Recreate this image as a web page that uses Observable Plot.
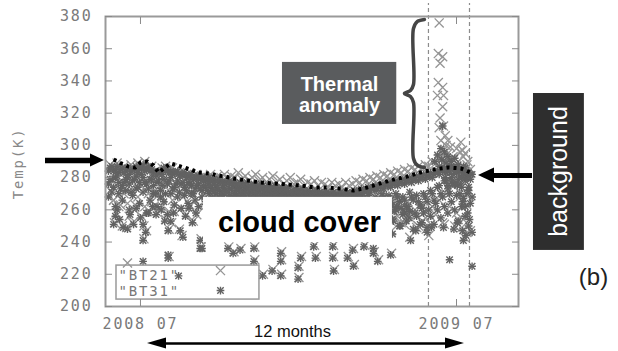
<!DOCTYPE html>
<html><head><meta charset="utf-8">
<script src="https://cdn.jsdelivr.net/npm/d3@7"></script>
<script src="https://cdn.jsdelivr.net/npm/@observablehq/plot@0.6"></script>
<style>
html,body{margin:0;padding:0;background:#fff;}
#chart{width:618px;height:351px;overflow:hidden;}
</style></head><body><div id="chart"></div>
<script>
// ---- data (days counted from 2008-07-01, temperatures in K) ----
const yTicks = [200, 220, 240, 260, 280, 300, 320, 340, 360, 380];
const xTickDays = [0, 365];
const xTickLabels = ["2008 07", "2009 07"];
const seriesNames = ['"BT21"', '"BT31"'];
const eventDays = [332.6, 380];

const bt21 = [
[-35,288],[-35,272],[-31,286],[-31,266],[-27,289],[-27,275],[-23,284],[-23,263],[-19,287],[-19,270],[-15,285],[-15,264],
[-11,288],[-11,273],[-7,286],[-7,260],[-3,289],[-3,268],[1,287],[1,275],[5,290],[5,262],[9,286],[9,270],[13,287],[13,265],
[17,284],[17,272],[21,283],[21,261],[25,286],[25,268],[29,287],[29,274],[33,285],[33,259],[37,286],[37,266],[41,284],[41,272],
[45,283],[45,260],[49,284],[49,268],[53,282],[53,271],[57,283],[57,263],[61,281],[61,269],[65,282],[65,274],[69,280],[69,262],
[73,281],[73,270],[77,280],[77,275],[81,282],[81,269],[85,279],[85,273],[89,281],[89,268],[93,280],[93,272],[97,282],[97,270],
[101,279],[101,274],[105,281],[105,269],[109,280],[109,273],[113,283],[113,270],[117,279],[117,274],[121,281],[121,268],
[125,278],[125,272],[129,280],[129,270],[133,282],[133,274],[137,278],[137,269],[141,280],[141,273],[145,277],[145,270],
[149,279],[149,272],[153,281],[153,268],[157,277],[157,271],[161,279],[161,269],[165,276],[165,272],[169,278],[169,268],
[173,280],[173,271],[177,276],[177,269],[181,277],[181,272],[185,279],[185,268],[189,275],[189,270],[193,277],[193,267],
[197,276],[197,271],[201,278],[201,268],[205,275],[205,270],[209,277],[209,266],[213,276],[213,269],[217,274],[217,267],
[221,277],[221,270],[225,275],[225,266],[229,276],[229,269],[233,274],[233,267],[237,277],[237,270],[241,275],[241,266],
[245,276],[245,268],[249,278],[249,265],[253,277],[253,270],[257,279],[257,262],[261,278],[261,267],[265,280],[265,258],
[269,279],[269,266],[273,281],[273,255],[277,280],[277,268],[281,282],[281,257],[285,281],[285,264],[289,283],[289,253],
[293,282],[293,267],[297,284],[297,256],[301,283],[301,262],[305,285],[305,251],[309,284],[309,265],[313,286],[313,254],
[317,285],[317,260],[321,287],[321,250],[325,286],[325,263],[329,288],[329,255],[333,287],[333,244],[337,290],[337,262],
[341,289],[341,257],[345,292],[345,266],[349,294],[349,252],[353,290],[353,270],[357,288],[357,262],[361,291],[361,275],
[365,289],[365,258],[369,296],[369,268],[373,293],[373,254],[377,288],[377,263],[381,285],[381,247],
[-31,266],[-30,252],[-28,258],[-25,262],[-21,250],[-16,249],[-15,227],[-13,256],[-9,252],[-6,263],[1,256],[4,250],[4,242],
[7,247],[10,259],[15,261],[20,258],[25,262],[29,254],[33,248],[33,231],[36,252],[39,259],[45,248],[48,244],[53,257],
[57,262],[61,253],[65,257],[70,242],[70,237],
[102,237],[108,234],[116,236],[132,237],[132,229],[142,220],[153,223],[163,234],[163,229],[163,220],[183,225],[183,218],
[186,231],[201,238],[203,231],[223,238],[223,231],[224,223],[240,231],[246,236],[247,226],[259,238],[270,234],[275,229],[290,233],
[290,247],[293,255],[311,243],[330,248],[301,252],[306,259],[319,249],[326,253],[335,251],[309,257],[285,259],[297,263],
[351,251],[371,249],[374,243],[363,250],[367,254],[377,246],
[345,376],[344,357],[349,355],[346,351],[344,339],[349,336],[343,331],[350,331],[349,324],[346,317],[350,312],[345,311],
[355,303],[370,302],[372,297],[350,297],[358,299],[349,292],[352,306],[355,295],[365,298],[378,290],[347,303],[353,300],
[361,293],[375,295]
];

const bt31 = [
[-37,284],[-37,276],[-37,268],[-33,287],[-33,279],[-33,271],[-29,285],[-29,280],[-29,262],[-25,283],[-25,277],[-25,270],
[-21,286],[-21,275],[-21,266],[-17,284],[-17,279],[-17,272],[-13,282],[-13,276],[-13,260],[-9,285],[-9,278],[-9,269],
[-5,287],[-5,281],[-5,273],[-1,286],[-1,277],[-1,264],[3,288],[3,280],[3,271],[7,285],[7,276],[7,258],[11,284],[11,279],[11,266],
[15,283],[15,275],[15,270],[19,281],[19,277],[19,262],[23,284],[23,272],[23,268],[27,286],[27,279],[27,265],[31,285],[31,276],[31,257],
[35,284],[35,280],[35,270],[39,283],[39,274],[39,263],[43,284],[43,278],[43,268],[47,282],[47,276],[47,261],[51,283],[51,274],[51,269],
[55,281],[55,277],[55,264],[59,282],[59,275],[59,270],[63,280],[63,273],[63,266],[67,281],[67,276],[67,262],[71,280],[71,272],[71,268],
[75,279],[75,274],[75,265],[79,280],[79,276],[79,270],[83,279],[83,273],[83,267],[87,278],[87,275],[87,270],[91,279],[91,272],[91,268],
[95,278],[95,274],[95,269],[99,277],[99,271],[99,267],[103,278],[103,273],[103,269],[107,277],[107,275],[107,268],[111,276],[111,272],[111,269],
[115,277],[115,274],[115,268],[119,276],[119,271],[119,269],[123,277],[123,273],[123,267],[127,275],[127,272],[127,268],[131,276],[131,274],[131,269],
[135,275],[135,271],[135,268],[139,276],[139,273],[139,267],[143,274],[143,270],[143,268],[147,275],[147,272],[147,269],[151,274],[151,271],[151,267],
[155,275],[155,273],[155,268],[159,273],[159,270],[159,267],[163,274],[163,272],[163,268],[167,273],[167,271],[167,267],[171,274],[171,269],[171,266],
[175,272],[175,270],[175,267],[179,273],[179,271],[179,266],[183,272],[183,269],[183,267],[187,273],[187,270],[187,266],[191,271],[191,268],[191,266],
[195,272],[195,270],[195,267],[199,271],[199,269],[199,265],[203,272],[203,268],[203,266],[207,271],[207,270],[207,265],[211,270],[211,268],[211,266],
[215,271],[215,269],[215,265],[219,270],[219,267],[219,266],[223,271],[223,269],[223,264],[227,270],[227,268],[227,265],[231,271],[231,267],[231,264],
[235,270],[235,268],[235,266],[239,271],[239,266],[239,264],[243,270],[243,268],[243,265],[247,272],[247,267],[247,263],[251,271],[251,269],[251,265],
[255,273],[255,268],[255,262],[259,272],[259,266],[259,258],[263,274],[263,269],[263,261],[267,273],[267,265],[267,255],[271,275],[271,268],[271,259],
[275,274],[275,264],[275,252],[279,276],[279,270],[279,260],[283,275],[283,266],[283,250],[287,277],[287,269],[287,258],[291,276],[291,263],[291,254],
[295,278],[295,270],[295,260],[299,277],[299,265],[299,250],[303,279],[303,268],[303,257],[307,278],[307,262],[307,253],[311,280],[311,271],[311,259],
[315,279],[315,266],[315,248],[319,281],[319,269],[319,256],[323,280],[323,263],[323,251],[327,282],[327,270],[327,258],[331,281],[331,265],[331,249],
[335,283],[335,272],[335,256],[339,282],[339,266],[339,251],[343,284],[343,274],[343,260],[347,285],[347,270],[347,255],[351,286],[351,278],[351,262],
[355,284],[355,273],[355,258],[359,287],[359,280],[359,265],[363,286],[363,276],[363,260],[367,285],[367,279],[367,253],[371,284],[371,274],[371,262],
[375,286],[375,280],[375,256],[379,283],[379,272],[379,250],[383,282],[383,268],[383,246],
[-35,286],[-35,279],[-31,284],[-31,274],[-27,287],[-27,281],[-23,285],[-23,273],[-19,283],[-19,277],[-15,286],[-15,280],[-11,284],[-11,271],
[-7,285],[-7,279],[-3,283],[-3,274],[1,286],[1,282],[5,284],[5,277],[9,287],[9,273],[13,285],[13,279],[17,283],[17,270],[21,284],[21,278],
[25,282],[25,275],[29,284],[29,270],[33,283],[33,278],[37,282],[37,273],[41,283],[41,276],[45,281],[45,271],[49,282],[49,277],[53,280],[53,272],
[57,281],[57,276],[61,279],[61,270],[65,280],[65,275],[69,279],[69,273],[73,278],[73,275],[77,279],[77,272],[81,278],[81,274],[85,277],[85,271],
[89,278],[89,274],[93,277],[93,270],[97,276],[97,273],[101,277],[101,271],[105,276],[105,273],[109,275],[109,270],[113,276],[113,273],[117,275],[117,270],
[121,274],[121,272],[125,275],[125,270],[129,274],[129,271],[133,273],[133,270],[137,274],[137,271],[141,273],[141,269],[145,272],[145,270],[149,273],[149,269],
[153,272],[153,270],[157,271],[157,268],[161,272],[161,269],[165,271],[165,268],[169,272],[169,269],[173,271],[173,268],[177,270],[177,268],[181,271],[181,268],
[185,270],[185,268],[189,271],[189,267],[193,270],[193,268],[197,269],[197,267],[201,270],[201,267],[205,269],[205,267],[209,270],[209,268],[213,269],[213,266],
[217,270],[217,268],[221,269],[221,266],[225,268],[225,266],[229,269],[229,266],[233,268],[233,265],[237,269],[237,266],[241,268],[241,265],[245,270],[245,266],
[249,269],[249,263],[253,271],[253,266],[257,270],[257,263],[261,272],[261,264],[265,271],[265,262],[269,273],[269,263],[273,272],[273,266],[277,274],[277,262],
[281,273],[281,268],[285,275],[285,262],[289,274],[289,266],[293,276],[293,259],[297,275],[297,268],[301,277],[301,261],[305,276],[305,266],[309,278],[309,262],
[313,277],[313,268],[317,279],[317,258],[321,278],[321,265],[325,280],[325,261],[329,279],[329,268],[333,281],[333,260],[337,280],[337,270],[341,283],[341,264],
[345,282],[345,275],[349,284],[349,268],[353,283],[353,278],[357,286],[357,270],[361,282],[361,276],[365,284],[365,269],[369,281],[369,276],[373,283],[373,267],
[377,280],[377,270],[381,282],[381,264],
[-31,251],[-29,256],[-27,260],[-24,254],[-20,249],[-15,248],[-12,257],[-8,251],[-5,261],[0,255],[3,251],[3,241],[3,228],[6,246],
[9,258],[14,262],[18,257],[24,260],[28,253],[32,247],[32,232],[32,230],[35,253],[38,258],[44,219],[46,247],[49,243],[52,256],
[56,261],[60,252],[64,258],[69,241],[69,236],[71,236],
[101,236],[107,233],[115,235],[131,236],[131,228],[141,219],[152,222],[162,233],[162,228],[162,219],[182,224],[182,217],[185,230],
[200,237],[202,230],[222,237],[222,230],[223,222],[239,230],[245,235],[246,225],[258,237],[269,233],[269,236],[274,228],[289,232],
[291,245],[292,253],[312,241],[331,246],[300,250],[305,258],[318,247],[325,252],[336,249],[310,255],[284,257],[296,262],
[350,249],[357,229],[383,225],[372,247],[373,241],[362,248],[366,252],[376,244],
[340,290],[343,294],[345,287],[347,298],[348,291],[349,312],[350,285],[351,296],[353,289],[355,293],[357,284],[359,290],
[361,286],[363,292],[365,283],[367,288],[369,285],[371,280],[373,287],[375,278],[377,283],[379,274],[381,279],[369,270],
[372,265],[375,262],[378,258],[380,254],[366,275],[360,278],[355,275],[352,280]
];

const backgroundDays = [-31,-22,-14,-6,0,8,15,21,27,35,43,50,58,66,79,89,98,107,124,139,154,170,185,200,216,231,246,262,277,292,308,323,338,355,370,381];
const backgroundTemps = [291.2,288.8,286.9,286.3,289.4,290.0,287.5,283.2,285.7,288.8,287.5,286.3,285.0,283.2,282.6,281.3,280.7,279.5,278.2,277.0,276.4,275.7,275.1,273.9,273.9,273.2,272.0,273.9,276.4,278.8,280.7,283.2,285.0,286.3,285.7,283.2];

// ---- helpers ----
const origin = Date.UTC(2008, 6, 1);
const day = d => new Date(origin + d * 864e5);
const toPts = arr => arr.map(([d, t]) => ({date: day(d), temp: t}));
const p21 = toPts(bt21), p31 = toPts(bt31);
const bgLine = backgroundDays.map((d, i) => ({date: day(d), temp: backgroundTemps[i]}));

// ---- annotation placement (in data units) ----
const boxes = [
  {x1: 72.8, x2: 291, y1: 239.7, y2: 267.7, fill: "#ffffff"},
  {x1: 164, x2: 296, y1: 313, y2: 351.5, fill: "#5a5c5e"},
  {x1: 453.9, x2: 512.7, y1: 234.8, y2: 332.2, fill: "#2e2e2e"}
].map(b => ({...b, x1: day(b.x1), x2: day(b.x2)}));
const legendBox = [{x1: day(-27.7), x2: day(137.4), y1: 204.3, y2: 225.4}];
const legendText = [{x: day(-25.4), y: 219.2, t: seriesNames[0]}, {x: day(-25.4), y: 209.3, t: seriesNames[1]}];
const legendMark21 = [{x: day(92.4), y: 222.3}];
const legendMark31 = [{x: day(92.4), y: 209.9}];
const brace = [[328,378.15],[319.9,376.91],[315.3,372.56],[315.3,337.8],[311.8,334.08],[304.9,332.22],[311.8,330.35],[315.3,326.63],[315.3,291.87],[319.9,287.52],[328,286.28]]
  .map(([d, t]) => ({date: day(d), temp: t}));
const shafts = [
  {x1: day(-109.7), x2: day(-55), y: 290.63, w: 5.5},
  {x1: day(405), x2: day(452.8), y: 281.32, w: 5},
  {x1: day(28), x2: day(354), y: 177.03, w: 2.5}
];
const heads = [
  {id: 0, x: day(-57.75), y1: 286.6, y2: 294.66}, {id: 0, x: day(-41.6), y1: 290.63, y2: 290.63},
  {id: 1, x: day(390.4), y1: 281.32, y2: 281.32}, {id: 1, x: day(408.9), y1: 276.66, y2: 285.98},
  {id: 2, x: day(8.08), y1: 177.03, y2: 177.03}, {id: 2, x: day(30.03), y1: 173.62, y2: 180.44},
  {id: 3, x: day(352.3), y1: 173.62, y2: 180.44}, {id: 3, x: day(374.2), y1: 177.03, y2: 177.03}
];
const labels = [
  {x: day(183.6), y: 252.3, t: "cloud cover", size: 29, weight: "bold", fill: "#000", rot: 0},
  {x: day(229.9), y: 338.0, t: "Thermal", size: 20, weight: "bold", fill: "#fff", rot: 0},
  {x: day(229.9), y: 324.4, t: "anomaly", size: 20, weight: "bold", fill: "#fff", rot: 0},
  {x: day(175.6), y: 184.05, t: "12 months", size: 16.5, weight: "normal", fill: "#111", rot: 0},
  {x: day(523.2), y: 218, t: "(b)", size: 24, weight: "normal", fill: "#222", rot: 0},
  {x: day(482.8), y: 283.8, t: "background", size: 25, weight: "normal", fill: "#fff", rot: -90}
];
const yLabel = [{x: day(-140.9), y: 288.8, t: "Temp(K)"}];

const mono = "DejaVu Sans Mono";
const sans = "Liberation Sans, Arial, sans-serif";
const axisColor = "#8a8a8a";
const tickDates = xTickDays.map(day);
const fmtX = d => xTickLabels[tickDates.findIndex(t => +t === +d)];
const c21 = "#959595", c31 = "#626262";

const chart = Plot.plot({
  width: 618, height: 351,
  marginLeft: 105, marginRight: 100, marginTop: 16, marginBottom: 45,
  style: {background: "#fff", fontFamily: sans},
  x: {type: "utc", domain: [day(-40.4), day(436.6)]},
  y: {domain: [200, 380]},
  marks: [
    Plot.ruleX(eventDays.map(day), {y1: 200, y2: 388, stroke: "#8c8c8c", strokeWidth: 1.2, strokeDasharray: "4,3"}),
    Plot.dot(p21, {x: "date", y: "temp", symbol: "times", r: 4.2, stroke: c21, strokeWidth: 1.3}),
    Plot.dot(p31, {x: "date", y: "temp", symbol: "plus", r: 2.6, stroke: c31, strokeWidth: 1.4}),
    Plot.dot(p31, {x: "date", y: "temp", symbol: "times", r: 3.0, stroke: c31, strokeWidth: 1.4}),
    Plot.line(bgLine, {x: "date", y: "temp", stroke: "#000", strokeWidth: 4, strokeDasharray: "3,4", strokeLinecap: "butt", curve: "linear"}),
    Plot.rect(boxes, {x1: "x1", x2: "x2", y1: "y1", y2: "y2", fill: "fill"}),
    Plot.line(brace, {x: "date", y: "temp", stroke: "#454545", strokeWidth: 3.5, curve: "catmull-rom"}),
    Plot.rect(legendBox, {x1: "x1", x2: "x2", y1: "y1", y2: "y2", fill: "none", stroke: "#9a9a9a", strokeWidth: 1.5}),
    Plot.text(legendText, {x: "x", y: "y", text: "t", textAnchor: "start", fontFamily: mono, fontSize: 14, fill: "#777"}),
    Plot.dot(legendMark21, {x: "x", y: "y", symbol: "times", r: 4.2, stroke: c21, strokeWidth: 1.3}),
    Plot.dot(legendMark31, {x: "x", y: "y", symbol: "plus", r: 2.6, stroke: c31, strokeWidth: 1.4}),
    Plot.dot(legendMark31, {x: "x", y: "y", symbol: "times", r: 3.0, stroke: c31, strokeWidth: 1.4}),
    Plot.frame({stroke: "#9a9a9a", strokeWidth: 2}),
    Plot.axisY({ticks: yTicks, anchor: "left", tickSize: 0, tickPadding: 13, fontFamily: mono, fontSize: 15, color: "#7a7a7a", label: null}),
    Plot.axisY({ticks: yTicks, anchor: "left", tickSize: 7, dx: 7, tickFormat: () => "", color: axisColor, label: null}),
    Plot.axisY({ticks: yTicks, anchor: "right", tickSize: 7, dx: -7, tickFormat: () => "", color: axisColor, label: null}),
    Plot.axisX({ticks: tickDates, anchor: "bottom", tickSize: 0, tickPadding: 12, tickFormat: fmtX, fontFamily: mono, fontSize: 15, color: "#7a7a7a", label: null}),
    Plot.axisX({ticks: tickDates, anchor: "bottom", tickSize: 7, dy: -7, tickFormat: () => "", color: axisColor, label: null}),
    Plot.axisX({ticks: tickDates, anchor: "top", tickSize: 7, dy: 7, tickFormat: () => "", color: axisColor, label: null}),
    Plot.text(yLabel, {x: "x", y: "y", text: "t", rotate: -90, fontFamily: mono, fontSize: 14, fill: "#888"}),
    Plot.ruleY(shafts, {y: "y", x1: "x1", x2: "x2", strokeWidth: "w", stroke: "#000"}),
    Plot.areaY(heads, {x: "x", y1: "y1", y2: "y2", z: "id", fill: "#000", curve: "linear"}),
    Plot.text(labels.filter(l => l.weight === "bold"), {x: "x", y: "y", text: "t", fontSize: "size", fontWeight: "bold", fill: "fill"}),
    Plot.text(labels.filter(l => l.weight !== "bold" && l.rot === 0), {x: "x", y: "y", text: "t", fontSize: "size", fill: "fill"}),
    Plot.text(labels.filter(l => l.rot !== 0), {x: "x", y: "y", text: "t", fontSize: 25, fill: "#fff", rotate: -90})
  ]
});
document.getElementById("chart").appendChild(chart);
d3.select(chart).selectAll('g[font-family="DejaVu Sans Mono"] text').attr("letter-spacing", "1.8");
</script>
</body></html>
